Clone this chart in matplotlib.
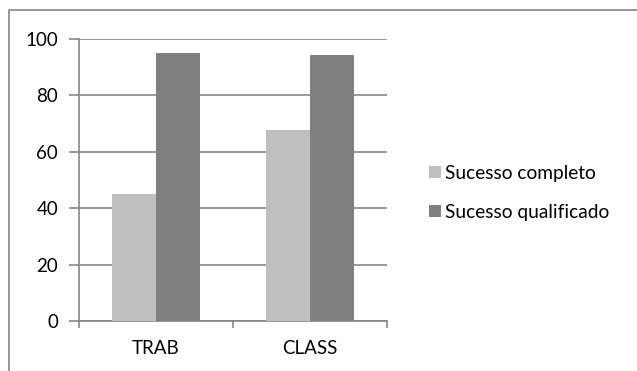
import matplotlib
matplotlib.use("Agg")
import matplotlib.pyplot as plt
from matplotlib.patches import Rectangle, Patch
import numpy as np

categories = ["TRAB", "CLASS"]
series_names = ["Sucesso completo", "Sucesso qualificado"]
completo = [45, 67.7]
qualificado = [95, 94.4]
yticks = [0, 20, 40, 60, 80, 100]

colors = ["#BFBFBF", "#808080"]
grid_c = "#868686"

plt.rcParams['font.family'] = ['Lato', 'DejaVu Sans']

W, H = 637, 371
fig = plt.figure(figsize=(W/100, H/100), dpi=100)
ax = fig.add_axes([79/W, 1 - 321/H, (387-79)/W, (321-39)/H])

x = np.arange(len(categories))
bw = 1/3.5
ax.bar(x - bw/2, completo, width=bw, color=colors[0], label=series_names[0], zorder=3)
ax.bar(x + bw/2, qualificado, width=bw, color=colors[1], label=series_names[1], zorder=3)

ax.set_xlim(-0.5, len(categories) - 0.5)
ax.set_ylim(0, 100)
ax.set_yticks(yticks)
ax.set_yticklabels([str(v) for v in yticks], fontsize=13.5, color="#000000")
ax.yaxis.grid(True, color=grid_c, linewidth=1.2, zorder=0)
ax.set_axisbelow(True)

ax.set_xticks(x)
ax.set_xticklabels(categories, fontsize=13.5, color="#000000")
ax.tick_params(axis='x', length=0, pad=14)
# boundary ticks
ax.set_xticks(np.arange(-0.5, len(categories)), minor=True)
ax.tick_params(axis='x', which='minor', length=5, width=1.2, color=grid_c, direction='out')
ax.tick_params(axis='y', length=7, width=1.2, color=grid_c, direction='out', pad=8)

for s in ['top', 'right']:
    ax.spines[s].set_visible(False)
for s in ['left', 'bottom']:
    ax.spines[s].set_color(grid_c)
    ax.spines[s].set_linewidth(1.2)

handles = [Patch(facecolor=colors[0]), Patch(facecolor=colors[1])]
leg = fig.legend(handles, series_names, loc='center left',
                 bbox_to_anchor=(412/W, 1 - 193/H), frameon=False,
                 fontsize=13.8, handlelength=0.6, handleheight=0.6,
                 handletextpad=0.2, labelspacing=1.15)

# outer chart border
fig.patches.append(Rectangle((9/W, -0.05), 1.1, (1 - 10/H) + 0.05,
                             transform=fig.transFigure, fill=False,
                             edgecolor="#868686", linewidth=1.2))

fig.savefig("out.png", dpi=100)
